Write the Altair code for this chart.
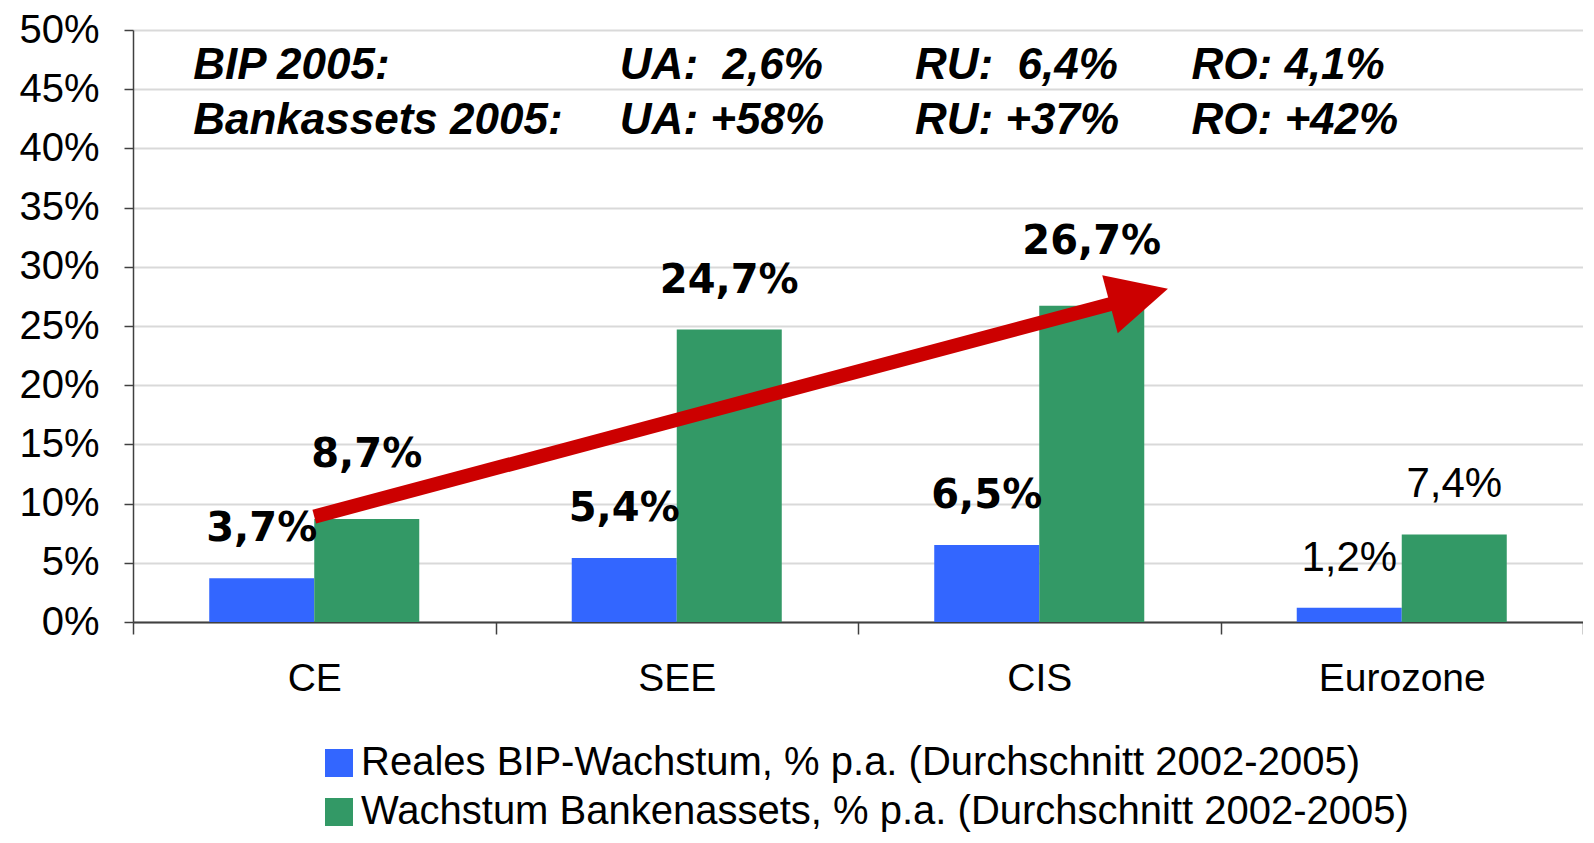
import math
import altair as alt
import pandas as pd

# ---------------- data ----------------
regions = ["CE", "SEE", "CIS", "Eurozone"]
series = [
    "Reales BIP-Wachstum, % p.a. (Durchschnitt 2002-2005)",
    "Wachstum Bankenassets, % p.a. (Durchschnitt 2002-2005)",
]
gdp_growth = [3.7, 5.4, 6.5, 1.2]
asset_growth = [8.7, 24.7, 26.7, 7.4]
colors = ["#3366FF", "#339966"]
y_ticks = [0, 5, 10, 15, 20, 25, 30, 35, 40, 45, 50]

# labels lifted higher (they sit next to the arrow) / labels in regular weight
raised = [("CE", series[1]), ("CIS", series[1])]
plain_regions = ["Eurozone"]

# header notes (anchored in data units: category index, percent)
note_row1 = ["BIP 2005:", "UA:\u00a0 2,6%", "RU:\u00a0 6,4%", "RO: 4,1%"]
note_row2 = ["Bankassets 2005:", "UA: +58%", "RU: +37%", "RO: +42%"]
note_x = [0.166, 1.343, 2.157, 2.92]
note_y = [45.9, 41.2]

# arrow (start, tip) in data units: category index, percent
arrow_x = [0.5, 2.855]
arrow_y = [8.9, 28.15]

# ---------------- layout ----------------
W, H = 1450, 592
FONT = "Liberation Sans"
RED = "#CC0000"

rows = []
for i, r in enumerate(regions):
    for s, vals in zip(series, [gdp_growth, asset_growth]):
        v = vals[i]
        rows.append({
            "region": r,
            "series": s,
            "value": v,
            "label": f"{v:.1f}".replace(".", ",") + "%",
            "raised": (r, s) in raised,
            "plain": r in plain_regions,
        })
df = pd.DataFrame(rows)

x_axis = alt.Axis(
    title=None, labelAngle=0, tickBand="extent", tickSize=12, tickWidth=1.5,
    tickColor="#404040", domainColor="#404040", domainWidth=2,
    labelFont=FONT, labelFontSize=39, labelColor="black", labelPadding=25,
    grid=False,
)
x_scale = alt.Scale(paddingInner=0, paddingOuter=0)
x_enc = alt.X("region:N", sort=regions, scale=x_scale, axis=x_axis)
xo_enc = alt.XOffset("series:N", sort=series,
                     scale=alt.Scale(paddingInner=0, paddingOuter=0.726))
y_scale = alt.Scale(domain=[0, 50], nice=False, zero=True)
y_axis = alt.Axis(
    title=None, values=y_ticks, labelExpr="datum.value + '%'",
    tickSize=9, tickWidth=1.5, tickColor="#404040", domainColor="#404040",
    domainWidth=1.5, labelFont=FONT, labelFontSize=40, labelColor="black",
    labelPadding=25, gridColor="#d9d9d9", gridWidth=2,
)
y_enc = alt.Y("value:Q", scale=y_scale, axis=y_axis)

bars = alt.Chart(df).mark_bar().encode(
    x=x_enc,
    xOffset=xo_enc,
    y=y_enc,
    color=alt.Color(
        "series:N", sort=series,
        scale=alt.Scale(domain=series, range=colors),
        legend=alt.Legend(
            title=None, orient="none", legendX=186, legendY=713,
            direction="vertical", symbolType="square", symbolSize=784,
            symbolStrokeWidth=0, symbolOpacity=1, labelFont=FONT, labelFontSize=40,
            labelColor="black", labelLimit=1400, labelOffset=2, rowPadding=9,
            padding=0,
        ),
    ),
)

base_text = alt.Chart(df).encode(x=x_enc, xOffset=xo_enc, y=y_enc, text="label:N")
lab_bold = base_text.transform_filter(
    "!datum.raised && !datum.plain"
).mark_text(font="DejaVu Sans", fontWeight="bold", fontSize=40, dy=-37,
            baseline="alphabetic", color="black")
lab_raised = base_text.transform_filter("datum.raised").mark_text(
    font="DejaVu Sans", fontWeight="bold", fontSize=40, dy=-52,
    baseline="alphabetic", color="black")
lab_plain = base_text.transform_filter("datum.plain").mark_text(
    font=FONT, fontSize=42, dy=-37, baseline="alphabetic", color="black")

inner = alt.layer(bars, lab_bold, lab_raised, lab_plain)

# arrow: shaft ends inside the head, head drawn as rotated custom triangle
frac = 0.943
arrow_df = pd.DataFrame({
    "ax": [arrow_x[0], arrow_x[0] + frac * (arrow_x[1] - arrow_x[0])],
    "value": [arrow_y[0], arrow_y[0] + frac * (arrow_y[1] - arrow_y[0])],
})
tip_df = pd.DataFrame({"ax": [arrow_x[1]], "value": [arrow_y[1]]})
dx_px = (arrow_x[1] - arrow_x[0]) * W / 4
dy_px = (arrow_y[1] - arrow_y[0]) * H / 50
head_angle = 360 - math.degrees(math.atan2(dy_px, dx_px))

xq = alt.X("ax:Q", scale=alt.Scale(domain=[0, 4], nice=False, zero=False), axis=None)

shaft = alt.Chart(arrow_df).mark_line(
    color=RED, strokeWidth=14, strokeCap="butt"
).encode(x=xq, y=y_enc)
head = alt.Chart(tip_df).mark_point(
    shape="M0,0 L-2,-1 L-2,1 Z", size=3600, filled=True, color=RED,
    opacity=1, strokeWidth=0, angle=head_angle,
).encode(x=xq, y=y_enc)

note_rows = []
for yv, texts in zip(note_y, [note_row1, note_row2]):
    for xv, t in zip(note_x, texts):
        note_rows.append({"ax": xv, "value": yv, "txt": t})
notes = alt.Chart(pd.DataFrame(note_rows)).mark_text(
    font=FONT, fontWeight="bold", fontStyle="italic", fontSize=44,
    align="left", baseline="alphabetic", color="black",
).encode(x=xq, y=y_enc, text="txt:N")

chart = alt.layer(inner, shaft, head, notes).resolve_scale(
    x="independent"
).properties(
    width=W, height=H,
    autosize=alt.AutoSizeParams(type="none"),
    padding={"left": 125, "top": 22, "right": 0, "bottom": 213},
    background="white",
).configure_view(stroke=None)

chart.save("out.html", embed_options={"renderer": "svg", "actions": False})
